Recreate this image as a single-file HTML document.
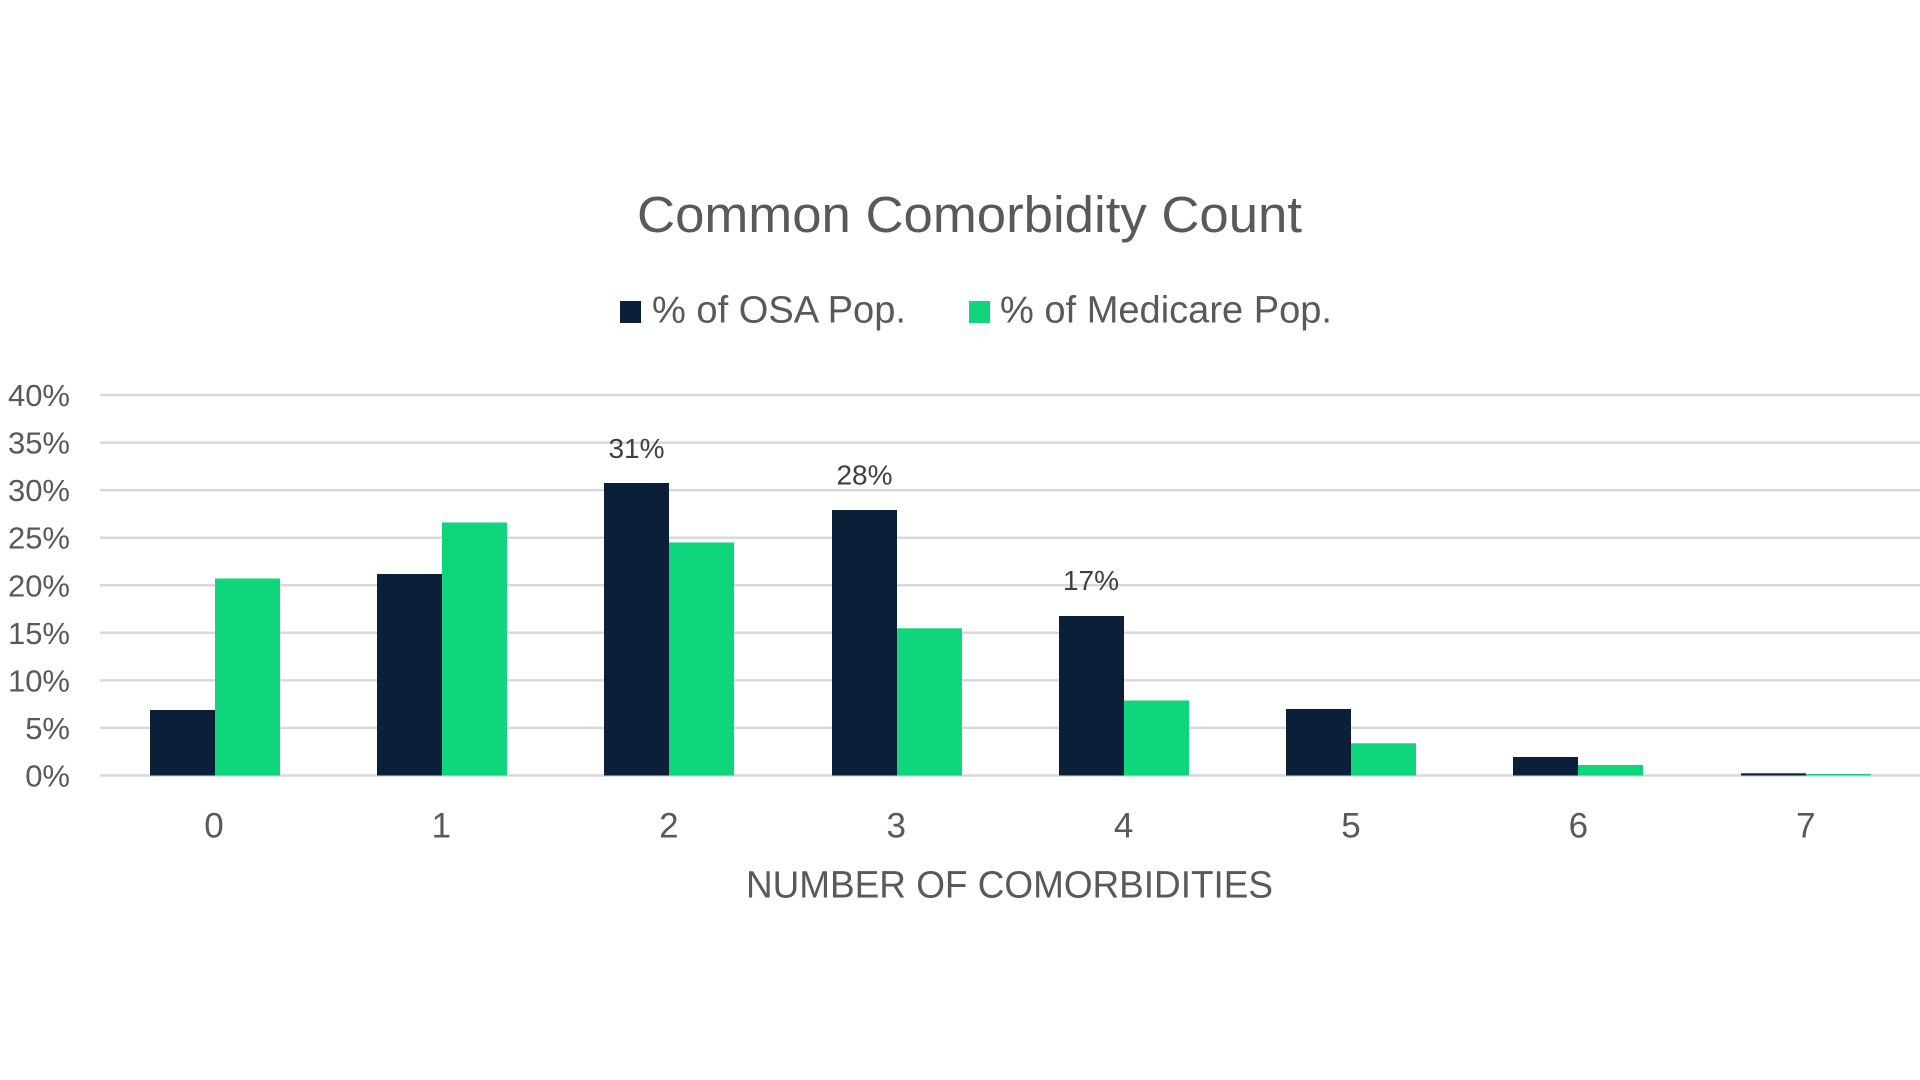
<!DOCTYPE html>
<html>
<head>
<meta charset="utf-8">
<style>
  html, body { margin: 0; padding: 0; background: #ffffff; }
  svg { display: block; }
  text { font-family: "Liberation Sans", "DejaVu Sans", sans-serif; }
</style>
</head>
<body>
<svg width="1920" height="1080" viewBox="0 0 1920 1080" xmlns="http://www.w3.org/2000/svg">
  <rect width="1920" height="1080" fill="#ffffff"/>

  <!-- Title -->
  <text x="637" y="232" font-size="51" fill="#595959" textLength="665" lengthAdjust="spacingAndGlyphs">Common Comorbidity Count</text>

  <!-- Legend -->
  <rect x="620" y="301" width="21" height="22" fill="#0c1f38"/>
  <text x="652" y="322.5" font-size="38" fill="#595959" textLength="254" lengthAdjust="spacingAndGlyphs">% of OSA Pop.</text>
  <rect x="969" y="301" width="21" height="22" fill="#0fd67c"/>
  <text x="1000" y="322.5" font-size="38" fill="#595959" textLength="332" lengthAdjust="spacingAndGlyphs">% of Medicare Pop.</text>

  <!-- Gridlines -->
  <g stroke="#d9d9d9" stroke-width="2.5">
    <line x1="100" y1="395" x2="1920" y2="395"/>
    <line x1="100" y1="442.6" x2="1920" y2="442.6"/>
    <line x1="100" y1="490.1" x2="1920" y2="490.1"/>
    <line x1="100" y1="537.7" x2="1920" y2="537.7"/>
    <line x1="100" y1="585.3" x2="1920" y2="585.3"/>
    <line x1="100" y1="632.8" x2="1920" y2="632.8"/>
    <line x1="100" y1="680.4" x2="1920" y2="680.4"/>
    <line x1="100" y1="727.9" x2="1920" y2="727.9"/>
    <line x1="100" y1="775.5" x2="1920" y2="775.5"/>
  </g>

  <!-- Y axis labels -->
  <g font-size="31" fill="#595959" text-anchor="end">
    <text x="70" y="406">40%</text>
    <text x="70" y="453.6">35%</text>
    <text x="70" y="501.1">30%</text>
    <text x="70" y="548.7">25%</text>
    <text x="70" y="596.3">20%</text>
    <text x="70" y="643.8">15%</text>
    <text x="70" y="691.4">10%</text>
    <text x="70" y="738.9">5%</text>
    <text x="70" y="786.5">0%</text>
  </g>

  <!-- Bars: OSA (navy) -->
  <g fill="#0c1f38">
    <rect x="150" y="710" width="65" height="65.5"/>
    <rect x="377" y="574" width="65" height="201.5"/>
    <rect x="604" y="483" width="65" height="292.5"/>
    <rect x="832" y="510" width="65" height="265.5"/>
    <rect x="1059" y="616" width="65" height="159.5"/>
    <rect x="1286" y="709" width="65" height="66.5"/>
    <rect x="1513" y="757" width="65" height="18.5"/>
    <rect x="1741" y="773.3" width="65" height="2.2"/>
  </g>
  <!-- Bars: Medicare (green) -->
  <g fill="#0fd67c">
    <rect x="215" y="578.5" width="65" height="197"/>
    <rect x="442" y="522.5" width="65" height="253"/>
    <rect x="669" y="542.5" width="65" height="233"/>
    <rect x="897" y="628.3" width="65" height="147.2"/>
    <rect x="1124" y="700.5" width="65" height="75"/>
    <rect x="1351" y="743.3" width="65" height="32.2"/>
    <rect x="1578" y="765" width="65" height="10.5"/>
    <rect x="1806" y="774" width="65" height="1.5"/>
  </g>

  <!-- Data labels -->
  <g font-size="28" fill="#404040" text-anchor="middle">
    <text x="636.5" y="458">31%</text>
    <text x="864.5" y="484.3">28%</text>
    <text x="1091" y="590">17%</text>
  </g>

  <!-- X axis labels -->
  <g font-size="35" fill="#595959" text-anchor="middle">
    <text x="214" y="837.7">0</text>
    <text x="441.4" y="837.7">1</text>
    <text x="668.8" y="837.7">2</text>
    <text x="896.2" y="837.7">3</text>
    <text x="1123.6" y="837.7">4</text>
    <text x="1351" y="837.7">5</text>
    <text x="1578.4" y="837.7">6</text>
    <text x="1805.8" y="837.7">7</text>
  </g>

  <!-- X axis title -->
  <text x="746" y="897.7" font-size="38" fill="#595959" textLength="527" lengthAdjust="spacingAndGlyphs">NUMBER OF COMORBIDITIES</text>
</svg>
</body>
</html>
